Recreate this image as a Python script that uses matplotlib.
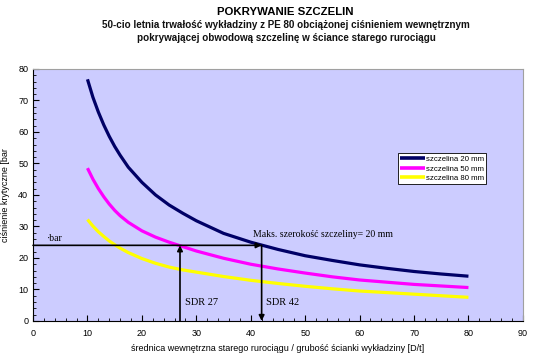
import matplotlib
matplotlib.use("Agg")
import matplotlib.pyplot as plt

x_vals = [10, 11, 12, 13, 14, 15, 16, 17.5, 20, 22.5, 25, 27.5, 30, 35, 40, 45, 50, 55, 60, 65, 70, 75, 80]
p20 = [76.7, 71, 66.3, 62.2, 58.6, 55.4, 52.6, 48.8, 44, 40, 36.8, 34.2, 31.8, 27.8, 25, 22.7, 20.7, 19.2, 17.8, 16.7, 15.7, 14.9, 14.2]
p50 = [48.5, 45, 42, 39.4, 37.1, 35.1, 33.4, 31.3, 28.6, 26.6, 25, 23.6, 22.2, 19.9, 18, 16.5, 15.2, 14, 13, 12.3, 11.6, 11.1, 10.6]
p80 = [32.2, 30.1, 28.3, 26.8, 25.4, 24.2, 23.1, 21.7, 19.8, 18.3, 17.1, 16.2, 15.5, 14.1, 12.9, 11.9, 11, 10.2, 9.5, 9, 8.5, 8, 7.5]
series_labels = ["szczelina 20 mm", "szczelina 50 mm", "szczelina 80 mm"]
series_colors = ["#000066", "#FF00FF", "#FFFF00"]
bar_level = 24
sdr_vals = [27, 42]

plt.rcParams['font.family'] = ['Liberation Sans', 'DejaVu Sans']
fig = plt.figure(figsize=(5.33, 3.57), dpi=100)
ax = fig.add_axes([0.062, 0.101, 0.919, 0.706])
ax.set_facecolor("#CCCCFF")

for ys, lab, col in zip([p20, p50, p80], series_labels, series_colors):
    ax.plot(x_vals, ys, color=col, lw=2.3, label=lab, solid_capstyle='butt')

ax.set_xlim(0, 90)
ax.set_ylim(0, 80)
ax.set_xticks(range(0, 91, 10))
ax.set_yticks(range(0, 81, 10))
ax.set_xticks(range(0, 91, 2), minor=True)
ax.set_yticks(range(0, 81, 2), minor=True)
ax.tick_params(axis='both', which='major', direction='in', length=4, labelsize=6.5, width=0.8)
ax.tick_params(axis='both', which='minor', direction='in', length=2, width=0.6)
ax.tick_params(axis='x', pad=6)
for s in ['top', 'right']:
    ax.spines[s].set_color('#A0A0A0')
for s in ['left', 'bottom']:
    ax.spines[s].set_color('black')

# reference lines
ax.annotate("", xy=(sdr_vals[1], bar_level), xytext=(0, bar_level),
            arrowprops=dict(arrowstyle='-|>', color='black', lw=1.2, mutation_scale=8, shrinkA=0, shrinkB=0))
ax.annotate("", xy=(sdr_vals[0], bar_level), xytext=(sdr_vals[0], 0),
            arrowprops=dict(arrowstyle='-|>', color='black', lw=1.2, mutation_scale=8, shrinkA=0, shrinkB=0))
ax.annotate("", xy=(sdr_vals[1], 0), xytext=(sdr_vals[1], bar_level),
            arrowprops=dict(arrowstyle='-|>', color='black', lw=1.2, mutation_scale=8, shrinkA=0, shrinkB=0))

serif = ['Liberation Serif', 'DejaVu Serif']
ax.text(2.5, 25.5, "·bar", fontsize=7, family=serif)
ax.text(28, 5, "SDR 27", fontsize=7.5, family=serif)
ax.text(42.8, 5, "SDR 42", fontsize=7.5, family=serif)
ax.text(40.5, 26.5, "Maks. szerokość szczeliny= 20 mm", fontsize=7, family=serif)

leg = ax.legend(loc='upper left', bbox_to_anchor=(0.745, 0.665), fontsize=5.6, frameon=True,
                fancybox=False, edgecolor='black', facecolor='white', framealpha=1,
                handlelength=3.2, handletextpad=0.1, borderpad=0.3, labelspacing=0.25, borderaxespad=0)
leg.get_frame().set_linewidth(0.6)
for h in leg.get_lines():
    h.set_linewidth(2.6)

ax.set_ylabel("ciśnienie krytyczne [bar", fontsize=6.5, labelpad=6)
ax.set_xlabel("średnica wewnętrzna starego rurociągu / grubość ścianki wykładziny [D/t]", fontsize=6.5, labelpad=4)

fig.text(0.535, 0.965, "POKRYWANIE SZCZELIN", ha='center', va='center', fontsize=8.2, fontweight='bold')
fig.text(0.537, 0.929, "50-cio letnia trwałość wykładziny z PE 80 obciążonej ciśnieniem wewnętrznym",
         ha='center', va='center', fontsize=7.1, fontweight='bold', color='#111111')
fig.text(0.537, 0.893, "pokrywającej obwodową szczelinę w ściance starego rurociągu",
         ha='center', va='center', fontsize=7.1, fontweight='bold', color='#111111')

fig.savefig("out.png", dpi=100, facecolor='white')
